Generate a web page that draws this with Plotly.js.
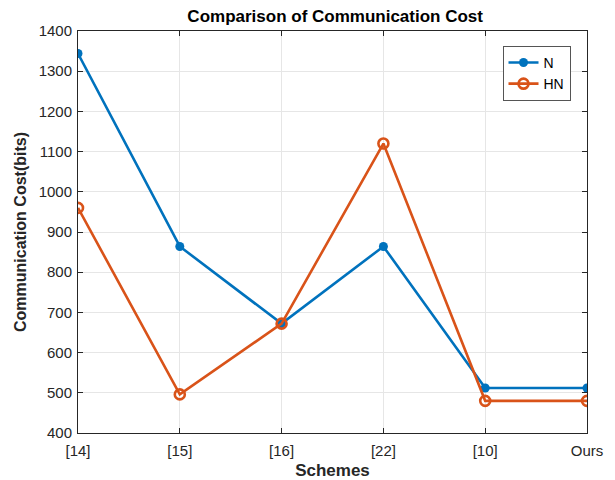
<!DOCTYPE html>
<html>
<head>
<meta charset="utf-8">
<script src="https://cdn.plot.ly/plotly-3.0.1.min.js"></script>
<style>html,body{margin:0;padding:0;background:#fff;}#chart{width:615px;height:480px;}</style>
</head>
<body>
<div id="chart"></div>
<script>
const schemes = ["[14]", "[15]", "[16]", "[22]", "[10]", "Ours"];
const costN = [1344, 864, 672, 864, 512, 512];
const costHN = [960, 496, 672, 1120, 480, 480];
const yTicks = [400, 500, 600, 700, 800, 900, 1000, 1100, 1200, 1300, 1400];

const font = "Liberation Sans, Arial, Helvetica, sans-serif";
const traces = [
  {x: schemes, y: costN, name: "N", type: "scatter", mode: "lines+markers",
   line: {color: "#0072BD", width: 2.6},
   marker: {symbol: "circle", size: 9, color: "#0072BD"}},
  {x: schemes, y: costHN, name: "HN", type: "scatter", mode: "lines+markers",
   line: {color: "#D95319", width: 2.6},
   marker: {symbol: "circle-open", size: 10, color: "#D95319", line: {width: 2.6, color: "#D95319"}}}
];
const axisCommon = {
  showline: true, linecolor: "#262626", linewidth: 1, mirror: "ticks",
  ticks: "inside", ticklen: 5, tickcolor: "#262626",
  showgrid: true, gridcolor: "#e6e6e6", gridwidth: 1, zeroline: false,
  tickfont: {family: font, size: 15, color: "#262626"}
};
const layout = {
  width: 615, height: 480,
  margin: {l: 78, r: 28, t: 31, b: 47},
  paper_bgcolor: "#fff", plot_bgcolor: "#fff",
  title: {text: "<b>Comparison of Communication Cost</b>", x: 0.545, xanchor: "center", y: 0.966, yanchor: "middle",
          font: {family: font, size: 17, color: "#000"}},
  xaxis: Object.assign({}, axisCommon, {
    type: "category", range: [0, 5], ticklabelstandoff: 4,
    title: {text: "<b>Schemes</b>", font: {family: font, size: 17, color: "#262626"}, standoff: 6}
  }),
  yaxis: Object.assign({}, axisCommon, {
    range: [400, 1400], tickvals: yTicks, ticktext: yTicks.map(String), ticklabelstandoff: 2,
    title: {text: "<b>Communication Cost(bits)</b>", font: {family: font, size: 16, color: "#262626"}, standoff: 8}
  }),
  showlegend: true,
  legend: {x: 0.834, y: 0.963, xanchor: "left", yanchor: "top",
           bgcolor: "#fff", bordercolor: "#555", borderwidth: 1,
           font: {family: font, size: 14, color: "#000"}, tracegroupgap: 0, itemwidth: 30}
};
Plotly.newPlot("chart", traces, layout, {displayModeBar: false, staticPlot: true});
</script>
</body>
</html>
